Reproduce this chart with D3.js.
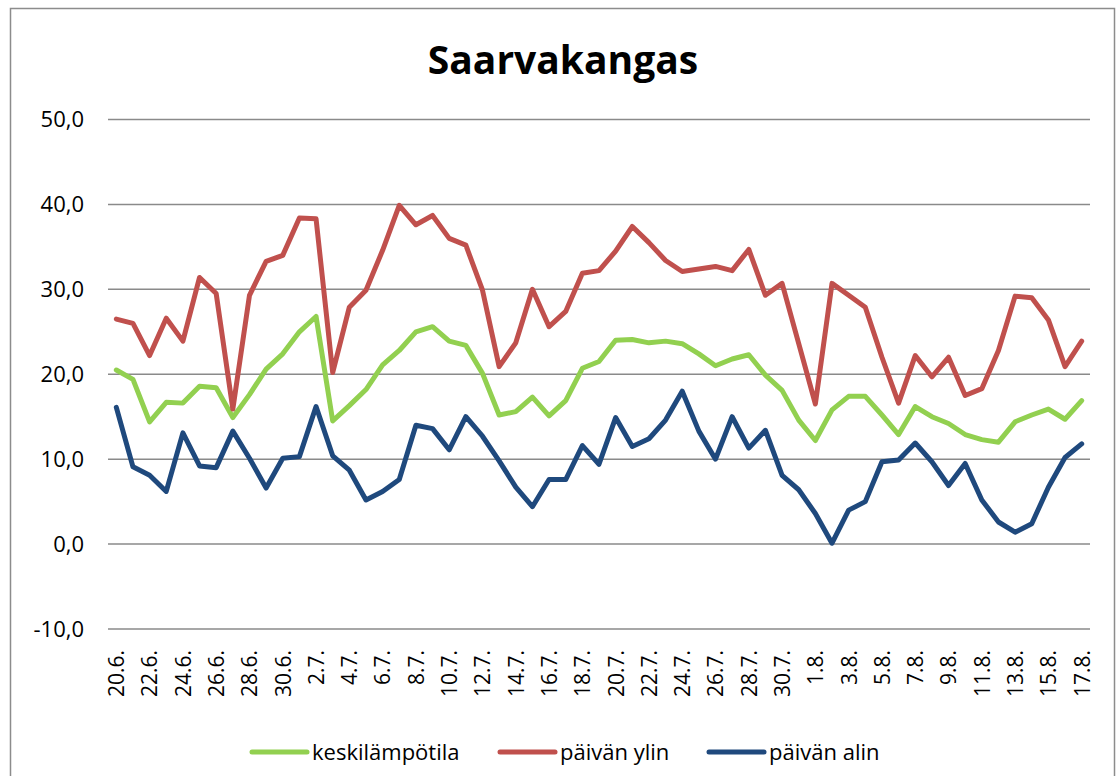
<!DOCTYPE html>
<html>
<head>
<meta charset="utf-8">
<script src="https://cdn.jsdelivr.net/npm/d3@7/dist/d3.min.js"></script>
<style>
  html, body { margin: 0; padding: 0; background: #fff; }
  svg { display: block; font-family: "Open Sans", "DejaVu Sans", sans-serif; }
</style>
</head>
<body>
<svg id="chart" width="1117" height="776"></svg>
<script>
const title = "Saarvakangas";
const categories = [
  "20.6.","21.6.","22.6.","23.6.","24.6.","25.6.","26.6.","27.6.","28.6.","29.6.","30.6.",
  "1.7.","2.7.","3.7.","4.7.","5.7.","6.7.","7.7.","8.7.","9.7.","10.7.","11.7.","12.7.",
  "13.7.","14.7.","15.7.","16.7.","17.7.","18.7.","19.7.","20.7.","21.7.","22.7.","23.7.",
  "24.7.","25.7.","26.7.","27.7.","28.7.","29.7.","30.7.","31.7.",
  "1.8.","2.8.","3.8.","4.8.","5.8.","6.8.","7.8.","8.8.","9.8.","10.8.","11.8.","12.8.",
  "13.8.","14.8.","15.8.","16.8.","17.8."
];
const keskilampotila = [
  20.5,19.4,14.4,16.7,16.6,18.6,18.4,14.9,17.6,20.6,22.4,25.0,26.8,14.5,16.3,18.2,21.1,22.8,
  25.0,25.6,23.9,23.4,20.1,15.2,15.6,17.3,15.1,16.9,20.7,21.5,24.0,24.1,23.7,23.9,23.6,22.4,
  21.0,21.8,22.3,19.9,18.1,14.6,12.2,15.8,17.4,17.4,15.2,12.9,16.2,15.0,14.2,12.9,12.3,12.0,
  14.4,15.2,15.9,14.7,16.9
];
const paivanYlin = [
  26.5,26.0,22.2,26.6,23.9,31.4,29.5,15.9,29.3,33.3,34.0,38.4,38.3,20.2,27.9,29.9,34.6,39.9,
  37.6,38.7,36.0,35.2,29.9,20.9,23.7,30.0,25.6,27.4,31.9,32.2,34.5,37.4,35.5,33.4,32.1,32.4,
  32.7,32.2,34.7,29.3,30.7,23.6,16.5,30.7,29.3,27.9,22.0,16.6,22.2,19.7,22.0,17.5,18.3,22.8,
  29.2,29.0,26.4,20.9,23.9
];
const paivanAlin = [
  16.1,9.1,8.1,6.2,13.1,9.2,9.0,13.3,10.1,6.6,10.1,10.3,16.2,10.4,8.7,5.2,6.2,7.6,
  14.0,13.6,11.1,15.0,12.7,9.8,6.7,4.4,7.6,7.6,11.6,9.4,14.9,11.5,12.4,14.6,18.0,13.3,
  10.0,15.0,11.3,13.4,8.1,6.4,3.6,0.1,4.0,5.0,9.7,9.9,11.9,9.7,6.9,9.5,5.2,2.6,
  1.4,2.4,6.7,10.2,11.8
];
const yTicks = [-10, 0, 10, 20, 30, 40, 50];
const seriesNames = ["keskilämpötila", "päivän ylin", "päivän alin"];
const seriesColors = ["#92D050", "#C0504D", "#1F497D"];
const seriesData = [keskilampotila, paivanYlin, paivanAlin];

const svg = d3.select("#chart");

// outer frame
svg.append("rect")
  .attr("x", 10.5).attr("y", 8.5)
  .attr("width", 1104).attr("height", 770)
  .attr("fill", "none").attr("stroke", "#8c8c8c").attr("stroke-width", 1.5);

const x = d3.scalePoint().domain(categories).range([108, 1090]).padding(0.5);
const y = d3.scaleLinear().domain([-10, 50]).range([629, 119.5]);

// gridlines
svg.append("g").selectAll("line").data(yTicks).join("line")
  .attr("x1", 108).attr("x2", 1090)
  .attr("y1", d => y(d)).attr("y2", d => y(d))
  .attr("stroke", "#8a8a8a").attr("stroke-width", 1.5);

// y axis labels
const fmt = d => d3.format(".1f")(d).replace(".", ",").replace("−", "-");
const yAxis = d3.axisLeft(y).tickValues(yTicks).tickSize(0).tickPadding(0).tickFormat(fmt);
const gy = svg.append("g").attr("transform", "translate(84,0)").call(yAxis);
gy.select(".domain").remove();
gy.selectAll("text").attr("font-size", 22).attr("fill", "#000")
  .attr("font-family", "'Open Sans', sans-serif");

// x axis labels
const xAxis = d3.axisBottom(x)
  .tickValues(categories.filter((d, i) => i % 2 === 0))
  .tickSize(0).tickPadding(0);
const gx = svg.append("g").attr("transform", "translate(0,650)").call(xAxis);
gx.select(".domain").remove();
gx.selectAll("text")
  .attr("font-size", 21).attr("fill", "#000")
  .attr("font-family", "'Open Sans', sans-serif")
  .attr("transform", "rotate(-90)")
  .attr("text-anchor", "end")
  .attr("x", 0).attr("y", 0).attr("dy", "0.35em");

// lines
const line = d3.line().x((d, i) => x(categories[i])).y(d => y(d));
svg.append("g").selectAll("path").data(seriesData).join("path")
  .attr("d", d => line(d))
  .attr("fill", "none")
  .attr("stroke", (d, i) => seriesColors[i])
  .attr("stroke-width", 5)
  .attr("stroke-linejoin", "round")
  .attr("stroke-linecap", "round");

// title
svg.append("text")
  .attr("x", 563).attr("y", 74)
  .attr("text-anchor", "middle")
  .attr("font-size", 39).attr("font-weight", "bold")
  .attr("fill", "#000")
  .text(title);

// legend
const legendX = [252, 500, 709];
const lg = svg.append("g").selectAll("g").data(seriesNames).join("g")
  .attr("transform", (d, i) => `translate(${legendX[i]},752)`);
lg.append("line").attr("x1", 0).attr("x2", 55).attr("y1", 0).attr("y2", 0)
  .attr("stroke", (d, i) => seriesColors[i]).attr("stroke-width", 5)
  .attr("stroke-linecap", "round");
lg.append("text").attr("x", 60).attr("y", 0).attr("dy", "0.35em")
  .attr("font-size", 22).attr("fill", "#000").text(d => d);
</script>
</body>
</html>
